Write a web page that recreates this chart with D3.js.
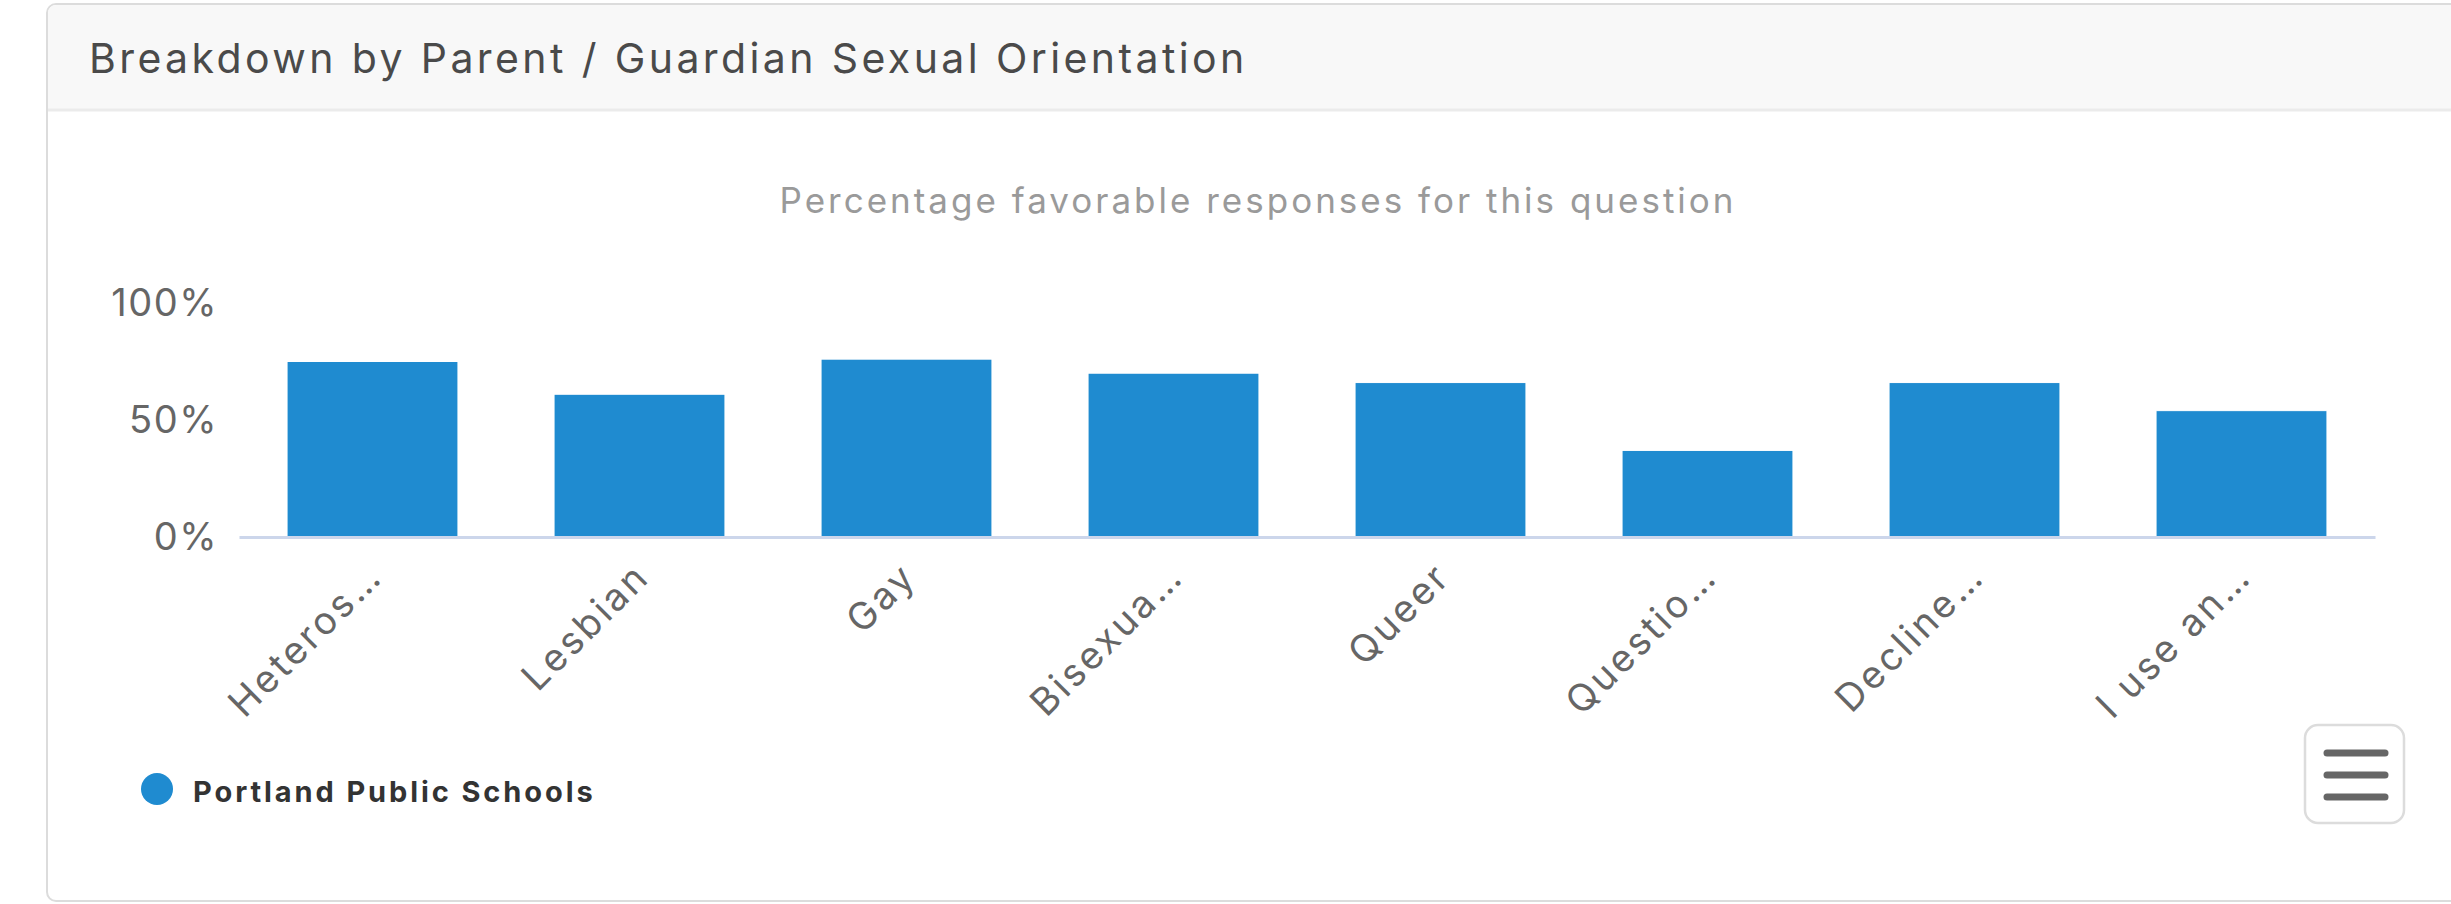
<!DOCTYPE html>
<html>
<head>
<meta charset="utf-8">
<script src="https://cdn.jsdelivr.net/npm/d3@7"></script>
<style>
  body { margin: 0; background: #fff; }
  svg { display: block; font-family: Inter, "Open Sans", sans-serif; }
</style>
</head>
<body>
<div id="chart"></div>
<script>
// Chart data
const categories = ["Heteros…", "Lesbian", "Gay", "Bisexua…", "Queer", "Questio…", "Decline…", "I use an…"];
const favorable = [75, 61, 76, 70, 66, 37, 66, 54];
const yTicks = [0, 50, 100];
const seriesName = "Portland Public Schools";
const chartTitle = "Breakdown by Parent / Guardian Sexual Orientation";
const chartSubtitle = "Percentage favorable responses for this question";

const W = 2451, H = 904;
const barColor = "#1f8bd0";

const svg = d3.select("#chart").append("svg")
    .attr("width", W)
    .attr("height", H);

// Card panel (runs off the right edge like the screenshot)
svg.append("rect")
    .attr("x", 47).attr("y", 4)
    .attr("width", W + 40).attr("height", 897)
    .attr("rx", 9)
    .attr("fill", "#fff")
    .attr("stroke", "#dcdcdc")
    .attr("stroke-width", 2);

// Header band
svg.append("path")
    .attr("d", `M48,110 V14 Q48,5 57,5 H${W} V110 Z`)
    .attr("fill", "#f8f8f8");
svg.append("line")
    .attr("x1", 48).attr("x2", W)
    .attr("y1", 110).attr("y2", 110)
    .attr("stroke", "#ebebeb")
    .attr("stroke-width", 3);

svg.append("text")
    .attr("x", 89).attr("y", 73)
    .attr("fill", "#4a4a4a")
    .style("font-size", "41px")
    .style("letter-spacing", "3.4px")
    .text(chartTitle);

svg.append("text")
    .attr("x", 1258).attr("y", 213)
    .attr("text-anchor", "middle")
    .attr("fill", "#9a9a9a")
    .style("font-size", "35px")
    .style("letter-spacing", "3px")
    .text(chartSubtitle);

// Scales
const x = d3.scaleBand()
    .domain(categories)
    .range([239, 2375])
    .paddingInner(0.36)
    .paddingOuter(0.18);

const y = d3.scaleLinear()
    .domain([0, 100])
    .range([537, 303]);

// Bars
svg.append("g")
  .selectAll("rect")
  .data(categories)
  .join("rect")
    .attr("x", d => x(d))
    .attr("width", x.bandwidth())
    .attr("y", (d, i) => y(favorable[i]))
    .attr("height", (d, i) => y(0) - y(favorable[i]))
    .attr("fill", barColor)
    .attr("stroke", "#fff")
    .attr("stroke-width", 1);

// Y axis labels
const yAxis = svg.append("g")
    .attr("transform", "translate(239,0)")
    .call(d3.axisLeft(y).tickValues(yTicks).tickFormat(d => d + "%").tickSize(0).tickPadding(21));
yAxis.select(".domain").remove();
yAxis.selectAll("text")
    .attr("fill", "#666")
    .style("font-size", "38px")
    .style("letter-spacing", "1.5px")
    .style("font-family", "Inter, sans-serif");

// X axis with rotated labels
const xAxis = svg.append("g")
    .attr("transform", `translate(0,${y(0)})`)
    .call(d3.axisBottom(x).tickSize(0).tickSizeOuter(0));
xAxis.select(".domain")
    .attr("stroke", "#ccd6eb")
    .attr("stroke-width", 3);
xAxis.selectAll("text")
    .attr("x", null).attr("y", null).attr("dy", null)
    .attr("text-anchor", "end")
    .attr("transform", "translate(12,42) rotate(-45)")
    .attr("fill", "#666")
    .style("font-size", "38px")
    .style("letter-spacing", "3px")
    .style("font-family", "Inter, sans-serif");

// Legend
const legend = svg.append("g").attr("transform", "translate(157,789)");
legend.append("circle")
    .attr("r", 16)
    .attr("fill", barColor);
legend.append("text")
    .attr("x", 36).attr("y", 13)
    .attr("fill", "#333")
    .style("font-size", "29px")
    .style("font-weight", "bold")
    .style("letter-spacing", "2.9px")
    .text(seriesName);

// Context menu button
const menu = svg.append("g").attr("transform", "translate(2304,724)");
menu.append("rect")
    .attr("x", 1).attr("y", 1)
    .attr("width", 99).attr("height", 98)
    .attr("rx", 13)
    .attr("fill", "#fff")
    .attr("stroke", "#dcdcdc")
    .attr("stroke-width", 2.5);
menu.selectAll("line")
  .data([29, 51, 73])
  .join("line")
    .attr("x1", 23).attr("x2", 81)
    .attr("y1", d => d).attr("y2", d => d)
    .attr("stroke", "#666")
    .attr("stroke-width", 7)
    .attr("stroke-linecap", "round");
</script>
</body>
</html>
